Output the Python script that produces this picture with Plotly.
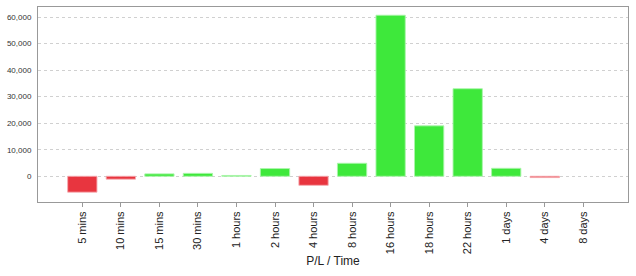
import plotly.graph_objects as go

categories = ["5 mins", "10 mins", "15 mins", "30 mins", "1 hours", "2 hours", "4 hours",
              "8 hours", "16 hours", "18 hours", "22 hours", "1 days", "4 days", "8 days"]
pl_values = [-6000, -1100, 900, 1100, 300, 2900, -3400, 4900, 60700, 19000, 33000, 3000, -500, 0]
y_tickvals = [0, 10000, 20000, 30000, 40000, 50000, 60000]
y_ticktext = ["0", "10,000", "20,000", "30,000", "40,000", "50,000", "60,000"]

GREEN = "#3ee83b"
RED = "#e8353f"
colors = [GREEN if v > 0 else (RED if v < 0 else "rgba(0,0,0,0)") for v in pl_values]
line_colors = ["rgba(170,245,170,0.9)" if v > 0 else ("rgba(245,170,175,0.9)" if v < 0 else "rgba(0,0,0,0)")
               for v in pl_values]

fig = go.Figure(go.Bar(
    x=list(range(len(categories))),
    y=pl_values,
    width=0.76,
    marker=dict(color=colors, line=dict(color=line_colors, width=1)),
))

fig.update_layout(
    width=636, height=276,
    margin=dict(l=38, r=8, t=7, b=74),
    paper_bgcolor="white", plot_bgcolor="white",
    showlegend=False,
    font=dict(family="Liberation Sans, Arial, sans-serif", color="#333"),
    xaxis=dict(
        range=[-1.15, 14.16],
        automargin=False,
        tickmode="array",
        tickvals=list(range(len(categories))),
        ticktext=categories,
        tickangle=-90,
        tickfont=dict(size=11, color="#222"),
        ticks="outside", ticklen=4, tickcolor="#999",
        showline=True, linecolor="#999", linewidth=1, mirror=True,
        showgrid=False, zeroline=False,
        title=dict(text="P/L / Time", font=dict(size=12, color="#222"), standoff=3),
    ),
    yaxis=dict(
        range=[-9700, 63800],
        automargin=False,
        tickmode="array",
        tickvals=y_tickvals,
        ticktext=y_ticktext,
        tickfont=dict(size=8, color="#333"),
        showline=True, linecolor="#999", linewidth=1, mirror=True,
        showgrid=True, gridcolor="#d0d0d0", griddash="dot", gridwidth=1,
        zeroline=False,
        ticks="", ticklabelstandoff=4,
    ),
)

fig.write_html("out.html")
